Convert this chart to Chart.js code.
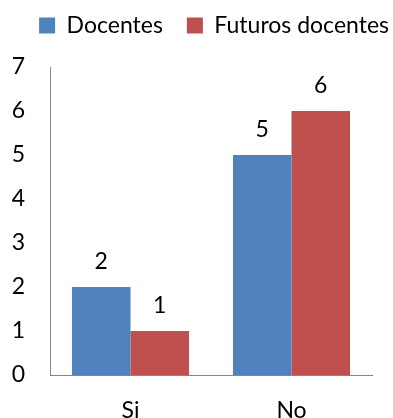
<!DOCTYPE html>
<html>
<head>
<meta charset="utf-8">
<script src="https://cdn.jsdelivr.net/npm/chart.js@4"></script>
<style>
html,body{margin:0;padding:0;background:#fff;}
#wrap{width:393px;height:418px;}
</style>
</head>
<body>
<div id="wrap"><canvas id="chart" width="393" height="418"></canvas></div>
<script>
// data
const categories = ["Si", "No"];
const docentes = [2, 5];
const futurosDocentes = [1, 6];
const yTicks = [0, 1, 2, 3, 4, 5, 6, 7];

const FONT = "Lato, 'Open Sans', sans-serif";
const SIZE = 23;

// value labels above each bar
const barLabels = {
  id: "barLabels",
  afterDatasetsDraw(chart){
    const ctx = chart.ctx;
    ctx.save();
    ctx.font = SIZE + "px " + FONT;
    ctx.fillStyle = "#000";
    ctx.textAlign = "center";
    ctx.textBaseline = "alphabetic";
    chart.data.datasets.forEach((ds, i) => {
      chart.getDatasetMeta(i).data.forEach((bar, j) => {
        ctx.fillText(ds.data[j], bar.x, bar.y - 18);
      });
    });
    ctx.restore();
  }
};

// blank axis used only to reserve space
function spacer(position, size){
  return {
    type: "category",
    position: position,
    afterFit(scale){
      if (scale.isHorizontal()) scale.height = size; else scale.width = size;
    },
    grid: { display: false, drawTicks: false },
    border: { display: false },
    ticks: { display: false }
  };
}

new Chart(document.getElementById("chart"), {
  type: "bar",
  data: {
    labels: categories,
    datasets: [
      {
        label: "Docentes",
        data: docentes,
        backgroundColor: "#4F81BD"
      },
      {
        label: "Futuros docentes",
        data: futurosDocentes,
        backgroundColor: "#C0504D"
      }
    ]
  },
  options: {
    responsive: false,
    animation: false,
    layout: { padding: { right: -20, top: -10 } },
    datasets: {
      bar: { categoryPercentage: 0.727, barPercentage: 1 }
    },
    plugins: {
      legend: {
        align: "end",
        labels: {
          boxWidth: 16,
          boxHeight: 16,
          padding: 24,
          color: "#000",
          font: { family: FONT, size: SIZE }
        }
      },
      tooltip: { enabled: false }
    },
    scales: {
      x: {
        afterFit(scale){ scale.height = 43; },
        grid: { display: false, drawTicks: false },
        border: { color: "#868686", width: 1 },
        ticks: { color: "#000", padding: 22, font: { family: FONT, size: SIZE } }
      },
      y: {
        min: 0,
        max: 7,
        afterBuildTicks(scale){
          scale.ticks = yTicks.map(v => ({ value: v }));
        },
        afterFit(scale){ scale.width = 50; },
        grid: { display: false, drawTicks: false },
        border: { color: "#868686", width: 1 },
        ticks: { color: "#000", padding: 25, font: { family: FONT, size: SIZE } }
      },
      gapTop: spacer("top", 20),
      gapRight: spacer("right", 41)
    }
  },
  plugins: [barLabels]
});
</script>
</body>
</html>
